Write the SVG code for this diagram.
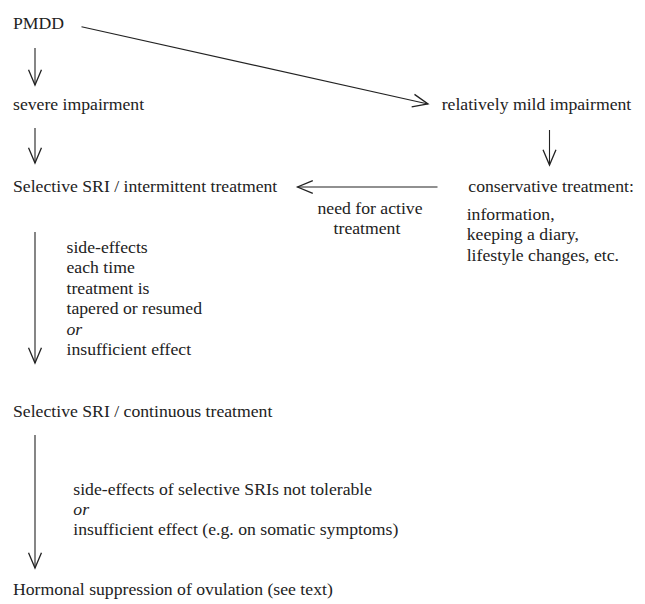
<svg xmlns="http://www.w3.org/2000/svg" width="645" height="604" viewBox="0 0 645 604">
<style>
text{font-size:17.7px;fill:#222}
.it{font-style:italic}
.c{fill:none;stroke:#222;stroke-width:1.1}
</style>
<defs>
<marker id="ah" markerUnits="userSpaceOnUse" markerWidth="20" markerHeight="20" refX="0" refY="0" viewBox="-15 -8 17 16" orient="auto" overflow="visible">
<path d="M-13,-5.5 L0,0 L-13,5.5" fill="none" stroke="#222" stroke-width="1.1"/>
</marker>
</defs>
<rect width="645" height="604" fill="#fff"/>
<g font-family="Liberation Serif, Times New Roman, serif">
<g id="connectors">
<line class="c" x1="35" y1="48" x2="35" y2="85" marker-end="url(#ah)"/>
<line class="c" x1="35" y1="128" x2="35" y2="163" marker-end="url(#ah)"/>
<line class="c" x1="81.5" y1="26.7" x2="428" y2="104" marker-end="url(#ah)"/>
<line class="c" x1="549.5" y1="130" x2="549.5" y2="165" marker-end="url(#ah)"/>
<line class="c" x1="437.5" y1="187" x2="297.5" y2="187" marker-end="url(#ah)"/>
<line class="c" x1="35" y1="232" x2="35" y2="363" marker-end="url(#ah)"/>
<line class="c" x1="35" y1="435" x2="35" y2="568" marker-end="url(#ah)"/>
<text x="370" y="213.5" text-anchor="middle">need for active</text>
<text x="367" y="233.5" text-anchor="middle">treatment</text>
<text x="66.5" y="252.5">side-effects</text>
<text x="66.5" y="273">each time</text>
<text x="66.5" y="293.5">treatment is</text>
<text x="66.5" y="314">tapered or resumed</text>
<text x="66.5" y="334.5" class="it">or</text>
<text x="66.5" y="355">insufficient effect</text>
<text x="73.3" y="495">side-effects of selective SRIs not tolerable</text>
<text x="73.3" y="515" class="it">or</text>
<text x="73.3" y="535">insufficient effect (e.g. on somatic symptoms)</text>
</g>
<g id="pmdd"><text x="13" y="29">PMDD</text></g>
<g id="severe"><text x="13" y="110">severe impairment</text></g>
<g id="mild"><text x="441.7" y="110">relatively mild impairment</text></g>
<g id="ssri-intermittent"><text x="13" y="191.5">Selective SRI / intermittent treatment</text></g>
<g id="conservative">
<text x="468.3" y="191.5">conservative treatment:</text>
<text x="466.7" y="219.5">information,</text>
<text x="466.7" y="240">keeping a diary,</text>
<text x="466.7" y="260.5">lifestyle changes, etc.</text>
</g>
<g id="ssri-continuous"><text x="13" y="416.5">Selective SRI / continuous treatment</text></g>
<g id="hormonal"><text x="13" y="595">Hormonal suppression of ovulation (see text)</text></g>
</g>
</svg>
